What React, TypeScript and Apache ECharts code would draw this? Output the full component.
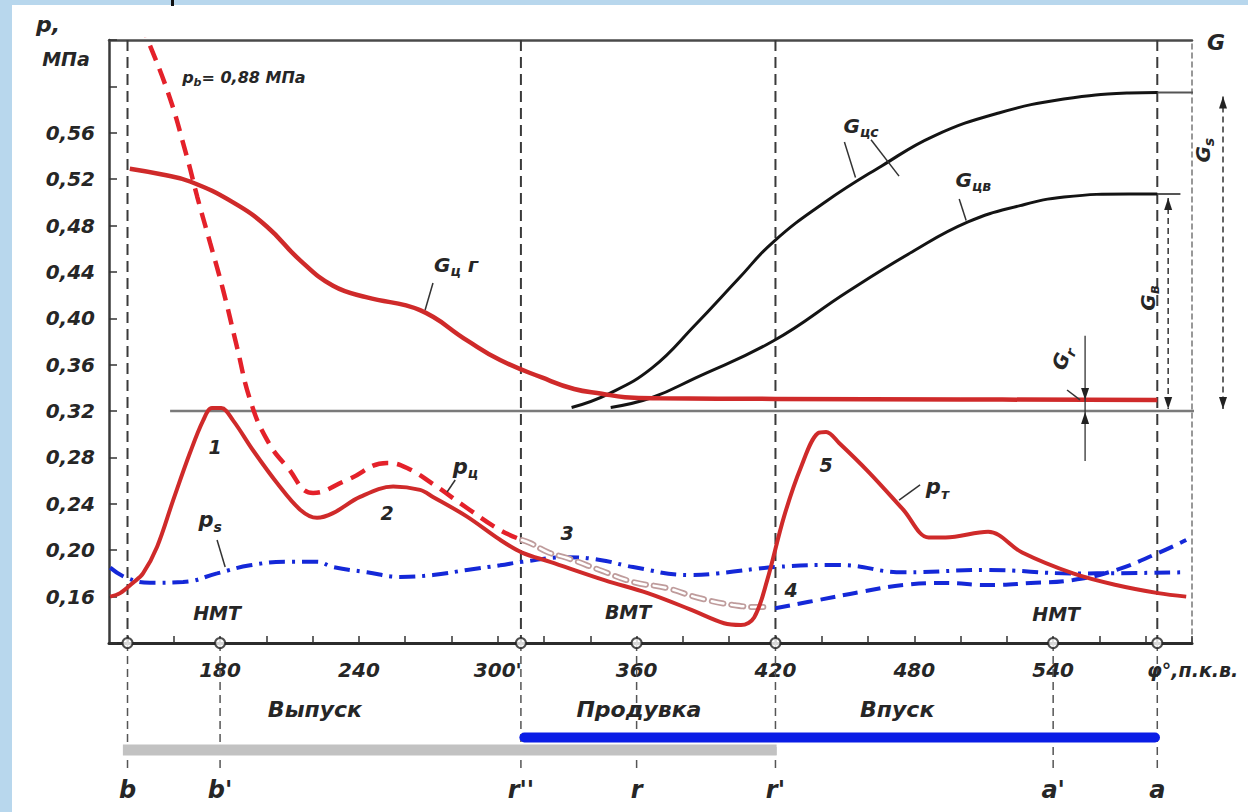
import React, { useEffect, useRef } from "react";
import * as echarts from "echarts";

// ---------- axes ----------
const X_MIN = 132;
const X_MAX = 600;
const Y_MIN = 0.12;
const Y_MAX = 0.64;
const Y_STEP = 0.04;
const xTickValues = [140, 160, 180, 200, 220, 240, 260, 280, 300, 320, 340, 360, 380, 400, 420, 440, 460, 480, 500, 520, 540, 560, 580, 600];
const xLabelValues = [180, 240, 300, 360, 420, 480, 540];

// ---------- curves (crank angle °, value) ----------
const gcgCurve = [
  [141, 0.529], [155, 0.524], [167, 0.518], [185.6, 0.5], [200.3, 0.479], [214.6, 0.45], [228.8, 0.428],
  [243.5, 0.418], [266.4, 0.407], [286.7, 0.381], [301, 0.364], [319, 0.349], [333, 0.339], [345, 0.335],
  [355, 0.332], [370, 0.331], [420, 0.3305], [500, 0.33], [585, 0.3296],
];
const pbCurve = [
  [145.5, 0.655], [157.1, 0.597], [165.7, 0.539], [170.1, 0.505], [175.7, 0.465], [181.3, 0.4245], [187.3, 0.3753],
  [193, 0.3296], [200.3, 0.2951], [209, 0.2718], [220.2, 0.2494], [234.9, 0.2606], [252.2, 0.2752], [260.8, 0.2709],
  [272, 0.2571], [286.7, 0.2364], [301, 0.2174], [310.5, 0.2088],
];
const pbGhost = [
  [310.5, 0.2088], [314, 0.2062], [322, 0.198], [330, 0.1933], [344, 0.183], [358.5, 0.1726], [373, 0.1674],
  [387, 0.1588], [401.7, 0.1528], [413.4, 0.151], [418, 0.151],
];
const ptCurve = [
  [132.5, 0.16], [136.8, 0.163], [142.4, 0.172], [146.7, 0.18], [152.8, 0.203], [159.7, 0.243], [167, 0.284],
  [172.7, 0.312], [176.5, 0.3226], [180.5, 0.3226], [185.6, 0.312], [194.3, 0.286], [204.6, 0.258], [214.6, 0.235],
  [221.9, 0.228], [228.8, 0.232], [240.5, 0.246], [254.8, 0.255], [266.4, 0.252], [272, 0.246], [286.7, 0.229],
  [301, 0.209], [310.5, 0.198], [322.6, 0.19], [346.4, 0.174], [364.8, 0.163], [383.1, 0.149], [397.8, 0.137],
  [405.1, 0.1355], [410.8, 0.142], [416.4, 0.174], [423.7, 0.229], [431.1, 0.272], [438.4, 0.301], [441.9, 0.302],
  [447.5, 0.2925], [460.5, 0.267], [475.2, 0.235], [486.2, 0.211], [493.5, 0.211], [511.9, 0.216], [526.6, 0.198],
  [548.6, 0.18], [567.2, 0.17], [585.4, 0.163], [597.5, 0.16],
];
const psCurve = [
  [132.5, 0.185], [139.8, 0.176], [149.7, 0.172], [164, 0.1726], [178.7, 0.18], [193, 0.187], [209, 0.19],
  [221.9, 0.19], [228.8, 0.1855], [243.5, 0.181], [257.8, 0.177], [272, 0.1786], [286.7, 0.183], [301, 0.187],
  [310.5, 0.19], [330, 0.194], [344.2, 0.1916], [358.5, 0.1855], [383.1, 0.1786], [394.8, 0.18], [419.9, 0.1855],
  [447.5, 0.1873], [475.2, 0.181], [511.9, 0.183], [548.6, 0.18], [597.5, 0.181],
];
const paCurve = [
  [419.9, 0.15], [438.4, 0.157], [456.6, 0.164], [475.2, 0.17], [493.5, 0.1717], [511.9, 0.17], [530.3, 0.1717],
  [548.6, 0.1743], [567.2, 0.183], [585.4, 0.1976], [597.5, 0.2088],
];
const gcsCurve = [
  [331.9, 0.3231], [347.7, 0.3347], [366.7, 0.3572], [385.3, 0.3942], [404.1, 0.4343], [419, 0.4658],
  [441.5, 0.5003], [465.9, 0.5314], [488.4, 0.5572], [516.5, 0.5771], [544.6, 0.5891], [572.8, 0.5943], [585, 0.5948],
];
const gcvCurve = [
  [348.8, 0.3231], [366.7, 0.3317], [385.3, 0.3485], [419, 0.3804], [451, 0.4227], [479, 0.4572],
  [503.2, 0.4831], [525.7, 0.4972], [544.7, 0.5046], [572.8, 0.5072], [585, 0.5072],
];

// ---------- reference lines ----------
const refLine032 = [[158.4, 0.32], [620, 0.32]];
const gsTopLine = [[585, 0.5948], [620, 0.5948]];
const gvTopLine = [[585, 0.5072], [595, 0.5072]];
const fullHeightMarks = [140, 310, 420, 585];
const markerLetters: [string, number][] = [["b", 140], ["b'", 180], ["r''", 310], ["r", 360], ["r'", 420], ["a'", 540], ["a", 585]];
const BELOW_END = 0.0088;
const exhaustBar = [[138, 0.0278], [420.5, 0.0278]];
const intakeBar = [[311.5, 0.0385], [584, 0.0385]];

const leaderLines = [
  [[272, 0.4304], [268.6, 0.4072]],
  [[449.8, 0.5521], [454.6, 0.5214]],
  [[461.3, 0.554], [473.4, 0.5226]],
  [[499.4, 0.5029], [502.4, 0.4843]],
  [[281.6, 0.2606], [278.1, 0.2502]],
  [[178.7, 0.2088], [182.2, 0.1855]],
  [[482.5, 0.2563], [473.4, 0.2433]],
  [[546, 0.3382], [551.6, 0.3296]],
];

// labels: [main, sub, after, x, y, size]
const curveLabels: [string, string, string, number, number, number][] = [
  ["1", "", "", 177.8, 0.289, 19],
  ["2", "", "", 252.2, 0.232, 19],
  ["3", "", "", 330, 0.215, 19],
  ["4", "", "", 426.8, 0.166, 19],
  ["5", "", "", 441.9, 0.2735, 19],
  ["р", "ц", "", 286, 0.272, 21],
  ["р", "s", "", 175.7, 0.226, 21],
  ["р", "т", "", 490, 0.2545, 21],
  ["G", "ц", " г", 282, 0.446, 20],
  ["G", "цс", "", 457, 0.566, 20],
  ["G", "цв", "", 505.5, 0.519, 20],
  ["НМТ", "", "", 178.7, 0.146, 19],
  ["ВМТ", "", "", 356.3, 0.147, 19],
  ["НМТ", "", "", 541.3, 0.145, 19],
];
const phaseNames: [string, number][] = [["Выпуск", 221], ["Продувка", 361], ["Впуск", 472.6]];

const FONT = "'DejaVu Sans', 'Liberation Sans', sans-serif";
const INK = "#262626";
const RED = "#cf2a2a";
const RED_D = "#e4212a";
const BLUE = "#1428d8";
const SMOOTH = 0.45;

function lineSeries(data: number[][], color: string, width: number, type: any, extra: any = {}) {
  return {
    type: "line",
    data,
    symbol: "none",
    smooth: SMOOTH,
    silent: true,
    z: 3,
    lineStyle: { color, width, type },
    ...extra,
  };
}

export default function App() {
  const ref = useRef<HTMLDivElement>(null);
  useEffect(() => {
    if (!ref.current) return;
    const chart = echarts.init(ref.current, null, { renderer: "svg" });
    const series: any[] = [];
    // vertical dashed marks
    fullHeightMarks.forEach((x) =>
      series.push(lineSeries([[x, Y_MAX], [x, Y_MIN]], "#3a3a3a", 2, [11, 6], { smooth: false, z: 1 }))
    );
    markerLetters.forEach(([, x]) =>
      series.push(lineSeries([[x, Y_MIN], [x, BELOW_END]], "#555", 1.5, [8, 5], { smooth: false, clip: false, z: 1 }))
    );
    series.push(lineSeries(refLine032, "#7a7a7a", 2.5, "solid", { smooth: false, clip: false, z: 2 }));
    series.push(lineSeries(gsTopLine, "#555", 2, "solid", { smooth: false, clip: false, z: 2 }));
    series.push(lineSeries(gvTopLine, "#555", 2, "solid", { smooth: false, clip: false, z: 2 }));
    // bars
    series.push(lineSeries(exhaustBar, "#c2c2c2", 11, "solid", { smooth: false, clip: false, z: 2 }));
    series.push({ ...lineSeries(intakeBar, "#0a1de6", 10, "solid", { smooth: false, clip: false, z: 3 }), lineStyle: { color: "#0a1de6", width: 10, cap: "round" } });
    // curves
    series.push(lineSeries(gcsCurve, "#141414", 3, "solid"));
    series.push(lineSeries(gcvCurve, "#141414", 3, "solid"));
    series.push(lineSeries(gcgCurve, RED, 4.5, "solid", { z: 4 }));
    series.push(lineSeries(psCurve, BLUE, 4, [16, 7, 3, 7]));
    series.push(lineSeries(paCurve, BLUE, 4, [15, 8]));
    series.push({ ...lineSeries(pbGhost, "#bf9c9c", 6, [12, 8]), lineStyle: { color: "#bf9c9c", width: 6, type: [12, 8], cap: "round" } });
    series.push({ ...lineSeries(pbGhost, "#ffffff", 2.5, [12, 8]), lineStyle: { color: "#ffffff", width: 2.5, type: [12, 8], cap: "round" } });
    series.push(lineSeries(ptCurve, RED, 4, "solid", { z: 4, smooth: 0.35 }));
    series.push(lineSeries(pbCurve, RED_D, 4.5, [16, 9], { z: 4 }));
    leaderLines.forEach((d) => series.push(lineSeries(d, "#333", 1.5, "solid", { smooth: false, clip: false, z: 5 })));
    // axis circles
    series.push({
      type: "scatter",
      data: markerLetters.map(([, x]) => [x, Y_MIN]),
      symbol: "circle",
      symbolSize: 10,
      clip: false,
      silent: true,
      z: 10,
      itemStyle: { color: "#fff", borderColor: "#222", borderWidth: 2 },
    });

    const labelFont = { fontFamily: FONT, fontStyle: "italic" as const, fontWeight: "bold" as const, color: INK };
    chart.setOption({
      animation: false,
      backgroundColor: "transparent",
      grid: { left: 109, right: 56, top: 40, bottom: 169, containLabel: false },
      xAxis: [
        {
          type: "value",
          min: X_MIN,
          max: X_MAX,
          position: "bottom",
          axisLine: { show: true, onZero: false, lineStyle: { color: "#2b2b2b", width: 3 } },
          axisTick: { show: true, inside: true, length: 7, customValues: xTickValues, lineStyle: { color: "#333", width: 1.5 } },
          axisLabel: {
            show: true,
            customValues: xLabelValues,
            margin: 17,
            fontSize: 20,
            ...labelFont,
            formatter: (v: number) => (v === 300 ? "300'" : String(v)),
          },
          splitLine: { show: false },
        },
        {
          type: "value",
          min: X_MIN,
          max: X_MAX,
          position: "top",
          axisLine: { show: true, onZero: false, lineStyle: { color: "#4a4a4a", width: 2.5 } },
          axisTick: { show: false },
          axisLabel: { show: false },
          splitLine: { show: false },
        },
      ],
      yAxis: [
        {
          type: "value",
          min: Y_MIN,
          max: Y_MAX,
          interval: Y_STEP,
          position: "left",
          axisLine: { show: true, onZero: false, lineStyle: { color: "#3a3a3a", width: 2.5 } },
          axisTick: { show: true, inside: true, length: 8, lineStyle: { color: "#333", width: 1.5 } },
          axisLabel: {
            margin: 14,
            fontSize: 20,
            ...labelFont,
            formatter: (v: number) => (v < 0.155 || v > 0.565 ? "" : v.toFixed(2).replace(".", ",")),
          },
          splitLine: { show: false },
        },
        {
          type: "value",
          min: Y_MIN,
          max: Y_MAX,
          position: "right",
          axisLine: { show: true, onZero: false, lineStyle: { color: "#777", width: 1.5, type: [5, 4] } },
          axisTick: { show: false },
          axisLabel: { show: false },
          splitLine: { show: false },
        },
      ],
      series,
    });

    const px = (x: number, y: number) => chart.convertToPixel({ xAxisIndex: 0, yAxisIndex: 0 }, [x, y]) as number[];
    const textStyle = (size: number, align = "center") => ({
      fontFamily: FONT,
      fontStyle: "italic",
      fontWeight: "bold",
      fontSize: size,
      fill: INK,
      align,
      verticalAlign: "middle",
      textAlign: align,
      textVerticalAlign: "middle",
    });
    const els: any[] = [];
    const addText = (text: string, x: number, y: number, size: number, align = "center", rotation = 0, rich?: any) => {
      els.push({ type: "text", x, y, rotation, silent: true, z: 100, style: { ...textStyle(size, align), text, rich } });
    };
    const richStyle = (size: number) => ({
      m: { fontFamily: FONT, fontStyle: "italic", fontWeight: "bold", fontSize: size, fill: INK, lineHeight: Math.round(size * 1.3) },
      s: { fontFamily: FONT, fontStyle: "italic", fontWeight: "bold", fontSize: Math.round(size * 0.68), fill: INK, lineHeight: Math.round(size * 0.7), verticalAlign: "bottom" },
    });
    curveLabels.forEach(([m, s, a, x, y, size]) => {
      const [X, Y] = px(x, y);
      if (!s && !a) addText(m, X, Y, size);
      else addText(`{m|${m}}${s ? `{s|${s}}` : ""}${a ? `{m|${a}}` : ""}`, X, Y, size, "center", 0, richStyle(size));
    });
    // p_b label
    {
      const [X, Y] = px(163.6, 0.6075);
      addText("{m|р}{s|b}{m|= 0,88 МПа}", X, Y, 16, "left", 0, richStyle(16));
    }
    // phase names and marker letters
    phaseNames.forEach(([t, x]) => addText(t, px(x, Y_MIN)[0], 709, 22));
    markerLetters.forEach(([t, x]) => addText(t, px(x, Y_MIN)[0], 790, 24));
    // axis titles
    addText("р,", 48, 24, 22);
    addText("МПа", 66, 59, 19);
    addText("G", 1216, 42, 22);
    addText("φ°,п.к.в.", 1147, 670, 19, "left");

    // dimension arrows
    const arrow = (tx: number, ty: number, dir: number) => ({
      type: "polygon",
      silent: true,
      z: 90,
      shape: { points: [[tx, ty], [tx - 4, ty - dir * 12], [tx + 4, ty - dir * 12]] },
      style: { fill: "#222" },
    });
    const vline = (x: number, y1: number, y2: number, dash: number[] | null, w = 1.5) => ({
      type: "line",
      silent: true,
      z: 89,
      shape: { x1: x, y1, x2: x, y2 },
      style: { stroke: "#333", lineWidth: w, lineDash: dash || undefined },
    });
    // Gs
    {
      const [X, Yt] = px(613.4, 0.5948);
      const [, Yb] = px(613.4, 0.32);
      els.push(vline(X, Yt + 4, Yb - 2, [6, 4]));
      els.push(arrow(X, Yt + 4, -1));
      els.push(arrow(X, Yb - 2, 1));
      const [LX, LY] = px(604.8, 0.545);
      addText("{m|G}{s|s}", LX, LY, 20, "center", Math.PI / 2, richStyle(20));
    }
    // Gв
    {
      const [X, Yt] = px(589.7, 0.5072);
      const [, Yb] = px(589.7, 0.32);
      els.push(vline(X, Yt + 4, Yb - 2, [6, 4]));
      els.push(arrow(X, Yt + 4, -1));
      els.push(arrow(X, Yb - 2, 1));
      const [LX, LY] = px(581, 0.4175);
      addText("{m|G}{s|в}", LX, LY, 20, "center", Math.PI / 2, richStyle(20));
    }
    // Gr
    {
      const [X, Yt] = px(553.8, 0.385);
      const [, Yr] = px(553.8, 0.3296);
      const [, Y0] = px(553.8, 0.32);
      const [, Yb] = px(553.8, 0.277);
      els.push(vline(X, Yt, Yb, null, 1.3));
      els.push(arrow(X, Yr, 1));
      els.push(arrow(X, Y0 + 1, -1));
      const [LX, LY] = px(543.9, 0.3657);
      addText("{m|G}{s|r}", LX, LY, 20, "center", Math.PI / 2.6, richStyle(20));
    }
    chart.setOption({ graphic: { elements: els } });
    return () => chart.dispose();
  }, []);

  return (
    <div style={{ position: "fixed", left: 0, top: 0, width: 1248, height: 812, background: "#b8d7ed", overflow: "hidden" }}>
      <div style={{ position: "absolute", left: 12, top: 5, width: 1236, height: 807, background: "#ffffff" }} />
      <div style={{ position: "absolute", left: 171, top: 0, width: 3, height: 6, background: "#111" }} />
      <div ref={ref} style={{ position: "absolute", left: 0, top: 0, width: 1248, height: 812 }} />
    </div>
  );
}
